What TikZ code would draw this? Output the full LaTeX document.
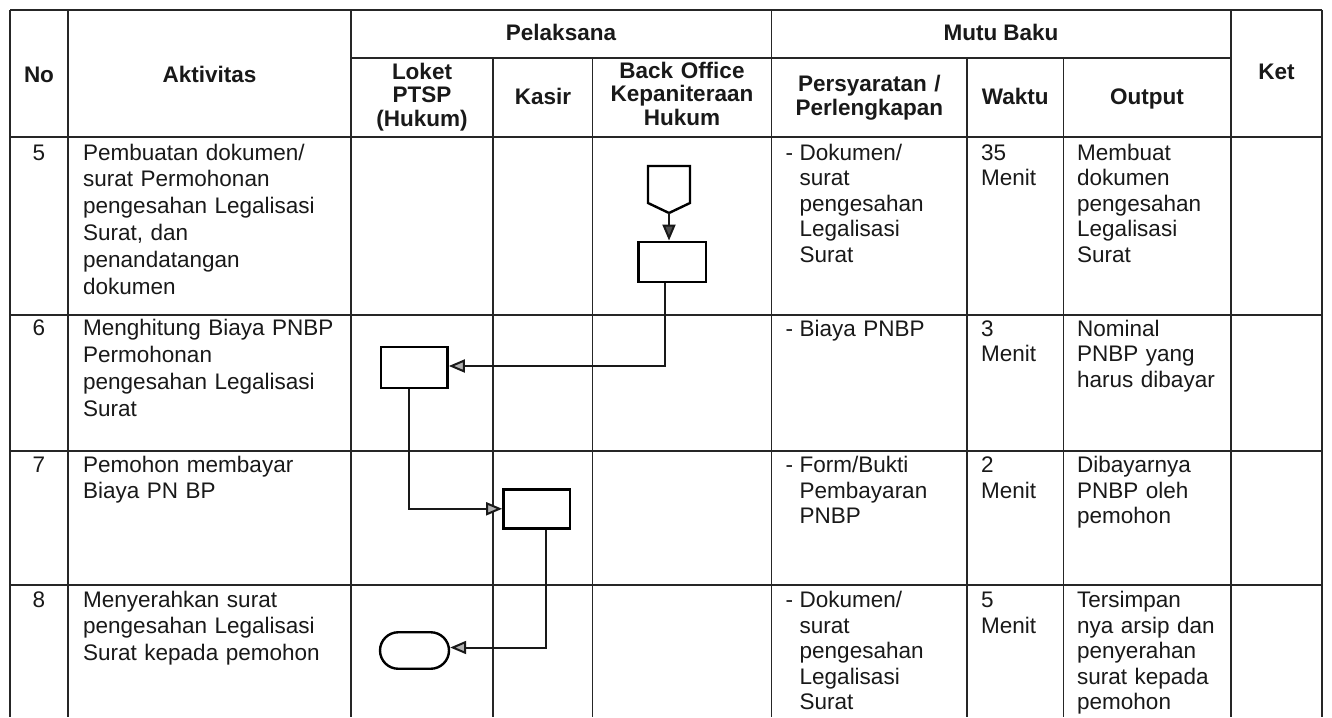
\documentclass[tikz,border=0pt]{standalone}
\usepackage{fontspec}
\setmainfont{Liberation Sans}
\usetikzlibrary{arrows.meta,shapes.misc,calc}
\begin{document}
\begin{tikzpicture}[x=1pt,y=-1pt,
  grid/.style={line width=1.3pt, draw=black!85},
  hd/.style={font=\fontsize{22.5}{23.5}\selectfont\bfseries, inner sep=0pt, anchor=base, text=black!90},
  hdm/.style={font=\fontsize{22.5}{23.5}\selectfont\bfseries, inner sep=0pt, anchor=base, align=center, text width=170pt, text=black!90},
  num/.style={font=\fontsize{22.5}{27}\selectfont, inner sep=0pt, anchor=base, text=black!90},
  akt/.style={font=\fontsize{22.5}{26.9}\selectfont, inner sep=0pt, anchor=base west, align=left, text width=265pt, text=black!90},
  cell/.style={font=\fontsize{22.5}{25.5}\selectfont, inner sep=0pt, anchor=base west, align=left, text width=#1, text=black!90},
  cell/.default=150pt,
  proc/.style={draw=black, line width=2.4pt, minimum width=#1, minimum height=40.5pt, inner sep=0pt, fill=white},
  proc/.default=67pt,
  term/.style={draw=black, line width=2.4pt, rounded rectangle, minimum width=69pt, minimum height=36.5pt, inner sep=0pt, fill=white},
  conn/.style={line width=2pt, draw=black!90, -{Triangle[length=16pt,width=13pt,fill=gray!60]}}
]
\useasboundingbox (0,0) rectangle (1332,717);
\fill[white] (0,0) rectangle (1332,717);

% ---- table grid ----
\draw[grid] (10,10) -- (1322,10);
\draw[grid] (351,58) -- (1231,58);
\draw[grid] (10,137) -- (1322,137);
\draw[grid] (10,315) -- (1322,315);
\draw[grid] (10,451) -- (1322,451);
\draw[grid] (10,585) -- (1322,585);
\foreach \xx in {10,68,351,771.7,1231,1322} \draw[grid] (\xx,10) -- (\xx,717);
\foreach \xx in {493,592.7,967,1063.3} \draw[grid] (\xx,58) -- (\xx,717);

% ---- header ----
\node[hd] (hno) at (39,82) {No};
\node[hd] (hakt) at (209.5,82) {Aktivitas};
\node[hd] (hpel) at (561,41) {Pelaksana};
\node[hd] (hmutu) at (1001,41) {Mutu Baku};
\node[hd] (hket) at (1276.5,79) {Ket};
\node[hdm] (hloket) at (422,79) {Loket\\PTSP\\(Hukum)};
\node[hd] (hkasir) at (543,104) {Kasir};
\node[hdm] (hback) at (682,78) {Back Office\\Kepaniteraan\\Hukum};
\node[hdm] (hpers) at (869.3,92) {Persyaratan /\\Perlengkapan};
\node[hd] (hwaktu) at (1015.2,104) {Waktu};
\node[hd] (hout) at (1147,104) {Output};

% ---- row 5 ----
\node[num] (n5) at (39,160) {5};
\node[akt] (a5) at (83,160) {Pembuatan dokumen/\\surat Permohonan\\pengesahan Legalisasi\\Surat, dan\\penandatangan\\dokumen};
\node[cell] (d5) at (785.5,160) {-};
\node[cell=160pt] (p5) at (799.5,160) {Dokumen/\\surat\\pengesahan\\Legalisasi\\Surat};
\node[cell=80pt] (w5) at (981,160) {35\\Menit};
\node[cell] (o5) at (1077,160) {Membuat\\dokumen\\pengesahan\\Legalisasi\\Surat};

% ---- row 6 ----
\node[num] (n6) at (39,335.5) {6};
\node[akt] (a6) at (83,335.5) {Menghitung Biaya PNBP\\Permohonan\\pengesahan Legalisasi\\Surat};
\node[cell] (d6) at (785.5,336) {-};
\node[cell=160pt] (p6) at (799.5,336) {Biaya PNBP};
\node[cell=80pt] (w6) at (981,336) {3\\Menit};
\node[cell] (o6) at (1077,336) {Nominal\\PNBP yang\\harus dibayar};

% ---- row 7 ----
\node[num] (n7) at (39,472) {7};
\node[akt] (a7) at (83,472) {Pemohon membayar\\Biaya PN BP};
\node[cell] (d7) at (785.5,472.5) {-};
\node[cell=160pt] (p7) at (799.5,472.5) {Form/Bukti\\Pembayaran\\PNBP};
\node[cell=80pt] (w7) at (981,472.5) {2\\Menit};
\node[cell] (o7) at (1077,472.5) {Dibayarnya\\PNBP oleh\\pemohon};

% ---- row 8 ----
\node[num] (n8) at (39,607) {8};
\node[akt] (a8) at (83,607) {Menyerahkan surat\\pengesahan Legalisasi\\Surat kepada pemohon};
\node[cell] (d8) at (785.5,607.5) {-};
\node[cell=160pt] (p8) at (799.5,607.5) {Dokumen/\\surat\\pengesahan\\Legalisasi\\Surat};
\node[cell=80pt] (w8) at (981,607.5) {5\\Menit};
\node[cell] (o8) at (1077,607.5) {Tersimpan\\nya arsip dan\\penyerahan\\surat kepada\\pemohon};

% ---- flowchart ----
\draw[line width=2.4pt, fill=white] (648,166) -- (690,166) -- (690,203) -- (669,213) -- (648,203) -- cycle;
\coordinate (c5) at (669,213);
\node[proc=67.4pt] (r1) at (672,262) {};
\node[proc=66.7pt] (r2) at (414.3,367.5) {};
\node[proc=66.7pt, minimum height=39pt] (r3) at (536.7,508.8) {};
\node[term] (t8) at (414.5,650.5) {};

\draw[conn, -{Triangle[length=16pt,width=13pt,fill=black!70]}] (c5) -- (c5 |- r1.north);
\draw[conn] ([xshift=-7pt]r1.south) |- ([yshift=1.5pt]r2.east);
\draw[conn] ([xshift=-5pt]r2.south) |- (r3.west);
\draw[conn] ([xshift=9pt]r3.south) |- ([yshift=3pt]t8.east);
\end{tikzpicture}
\end{document}
